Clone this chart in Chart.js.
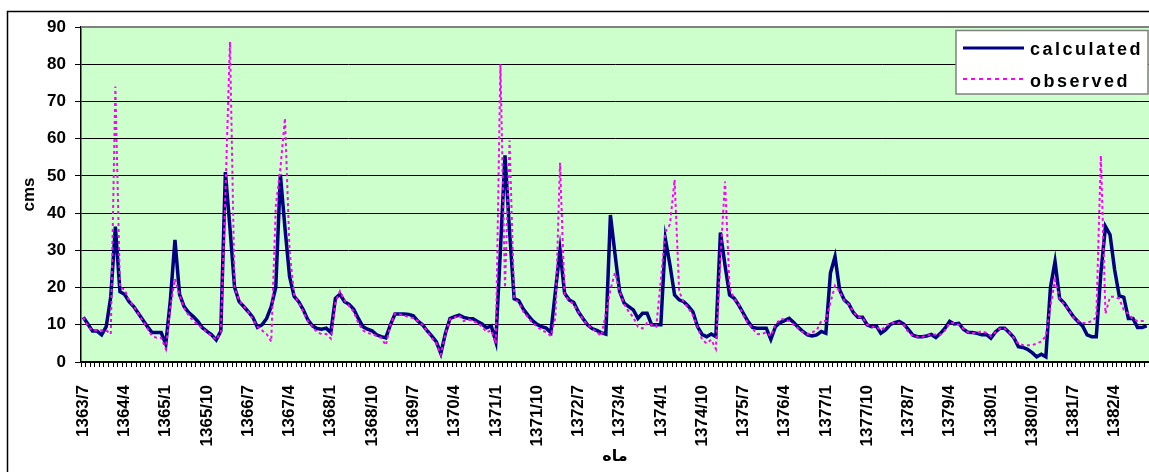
<!DOCTYPE html>
<html lang="fa">
<head>
  <meta charset="UTF-8" />
  <title>calculated / observed</title>
  <script src="https://cdn.jsdelivr.net/npm/chart.js"></script>
  <style>
    body{margin:0;padding:0;background:#fff}
    #caja{width:1149px;height:472px}
  </style>
</head>
<body>
<div id="caja"><canvas id="grafico" width="1149" height="472"></canvas></div>

<script>
/* -----------------   DATOS   ----------------- */
// meses 1363/7 ... 1382/11 (233 puntos)
const anioInicio = 1363, mesInicio = 7, numMeses = 233;
const meses = [];
for (let k = 0, a = anioInicio, m = mesInicio; k < numMeses; k++) {
  meses.push(a + "/" + m);
  m++; if (m > 12) { m = 1; a++; }
}

// etiquetas que se ven en el eje x (cada 9 meses)
const etiquetasX = ["1363/7","1364/4","1365/1","1365/10","1366/7","1367/4","1368/1","1368/10",
  "1369/7","1370/4","1371/1","1371/10","1372/7","1373/4","1374/1","1374/10","1375/7","1376/4",
  "1377/1","1377/10","1378/7","1379/4","1380/1","1380/10","1381/7","1382/4"];

const calculated = [
  12, 10.2, 8.3, 8.3, 7.3, 9.5, 17.6, 36.4, 18.9, 18.2,
  16.2, 14.9, 13.1, 11.3, 9.5, 7.9, 7.9, 7.9, 4.8, 16.7,
  32.8, 18.2, 14.9, 13.3, 12.2, 10.9, 9.2, 8.2, 7.3, 5.9,
  8.3, 51, 36, 20.1, 16.2, 14.9, 13.5, 12, 9.3, 10,
  11.7, 14.9, 20.1, 50.3, 36, 23, 17.6, 16.2, 14, 11.3,
  9.7, 9, 8.8, 9.1, 7.9, 17.1, 18.2, 16.2, 15.5, 14.2,
  11.7, 9.5, 8.8, 8.4, 7.3, 6.8, 6.5, 10, 12.9, 12.9,
  12.9, 12.8, 12.4, 11, 10, 8.4, 7, 5.5, 2.3, 7.7,
  11.7, 12.2, 12.6, 12, 11.7, 11.6, 10.9, 10.2, 9.2, 9.7,
  5.5, 30, 55.5, 35, 17, 16.5, 14.2, 12.6, 11.1, 10.1,
  9.5, 9.1, 7.9, 19, 30.1, 18.5, 16.7, 16, 13.5, 11.7,
  10, 9, 8.5, 7.9, 7.5, 39.5, 29, 19, 15.8, 14.9,
  14, 11.7, 13.1, 13.1, 10, 10, 10, 33, 26, 18,
  16.7, 16.2, 15, 13.5, 9.5, 7.4, 6.8, 7.5, 6.8, 34.8,
  26, 18, 17.1, 15.3, 13.1, 10.9, 9.3, 9.1, 9.1, 9.1,
  6.1, 9.5, 10.6, 11.1, 11.7, 10.6, 9.3, 8.2, 7.3, 7,
  7.3, 8.2, 7.7, 23.9, 28.3, 19.4, 16.7, 15.6, 13.3, 12,
  12, 10, 9.5, 9.7, 7.7, 8.6, 10, 10.6, 10.9, 10.2,
  8.8, 7.2, 6.8, 6.8, 7, 7.4, 6.6, 7.7, 9.1, 10.9,
  10.2, 10.4, 8.8, 8, 7.9, 7.7, 7.3, 7.4, 6.4, 8.1,
  9.1, 9.1, 7.9, 6.6, 4.1, 3.9, 3.4, 2.5, 1.4, 2.1,
  1.4, 20, 27, 17.1, 15.8, 14, 12.2, 10.9, 9.7, 7.3,
  6.8, 6.8, 23.9, 36.4, 34.2, 24.8, 17.8, 17.4, 11.7, 11.7,
  9.3, 9.3, 9.7
];

const observed = [
  12, 9.5, 8.5, 8.5, 8.5, 8.5, 7.5, 74, 20, 19.5,
  16.5, 15, 13, 11, 9, 7, 6.5, 6.5, 3.5, 15,
  22.3, 18, 14.5, 12.5, 11, 10, 9, 8, 7, 6,
  8, 45, 86, 20, 16.5, 15, 13.5, 11.5, 9.5, 8.5,
  7.5, 5.5, 42, 52, 65.5, 30, 18, 16, 13.5, 11,
  9.5, 8, 7.5, 7.5, 6.3, 16, 19, 16.5, 15, 13.5,
  10.5, 8.5, 7.8, 7.5, 7, 6.5, 4.5, 10, 13, 12.8,
  12.5, 12, 11.8, 11, 10, 8.3, 6.5, 5, 2, 7.5,
  11.5, 12, 12.5, 11, 11.5, 11, 10.5, 9.5, 8, 8.5,
  5, 80, 20, 59.5, 17, 16, 13.5, 12, 10.5, 9.5,
  8.5, 8, 7, 12, 53.5, 18, 16.5, 15.5, 13.5, 11.5,
  10, 9, 8, 7, 13, 19.4, 24, 19, 15.5, 13.5,
  12, 9.5, 9, 10.5, 10, 9.5, 22, 35, 37, 49,
  19, 16, 14.5, 12.5, 9.5, 6, 5, 6, 3.5, 28,
  48.5, 20, 17, 15.5, 12.5, 10.5, 9, 7.5, 7.5, 8,
  7, 10, 11.5, 11.5, 11, 10, 9, 8, 7.5, 8,
  8.5, 11, 11, 16, 20.5, 19, 16.5, 15.5, 13.5, 12,
  12, 10, 9.5, 9.5, 8.5, 9.5, 10.5, 10.5, 10.5, 10,
  8, 7, 6.8, 6.8, 7, 7.5, 7.3, 7.3, 8.5, 10.5,
  10.5, 10, 9, 8, 7.8, 7.8, 8.3, 7.8, 7, 8,
  9, 9, 8, 6.5, 5, 4.5, 4.5, 4.5, 5, 5.5,
  7, 15, 22, 17, 15.5, 14, 12, 11, 10.5, 10.5,
  11, 12, 55.5, 13, 17.5, 17.5, 17, 14, 13, 11.5,
  11, 11, 11
];

const fuente = "'Liberation Sans', Arial, 'DejaVu Sans', sans-serif";

/* -----------------   FONDO, MARCO Y LEYENDA   ----------------- */
const marco = {
  id: "marco",
  beforeDraw(chart){
    const {ctx, chartArea:a} = chart;
    ctx.save();
    ctx.fillStyle = "#fff";
    ctx.fillRect(0, 0, chart.width, chart.height);
    // borde exterior del gráfico
    ctx.strokeStyle = "#000"; ctx.lineWidth = 1.5;
    ctx.strokeRect(7.5, 11.5, 1300, 600);
    // área verde
    ctx.fillStyle = "#ccffcc";
    ctx.fillRect(a.left, a.top, a.right - a.left, a.bottom - a.top);
    ctx.restore();
  },
  beforeDatasetsDraw(chart){
    const {ctx, chartArea:a} = chart;
    ctx.save();
    ctx.strokeStyle = "#808080"; ctx.lineWidth = 2;
    ctx.beginPath(); ctx.moveTo(a.left, a.top); ctx.lineTo(a.right, a.top); ctx.stroke();
    ctx.restore();
  },
  afterDraw(chart){
    const ctx = chart.ctx;
    ctx.save();
    ctx.fillStyle = "#fff"; ctx.strokeStyle = "#808080"; ctx.lineWidth = 1.5;
    ctx.fillRect(956, 30.5, 192, 63.5);
    ctx.strokeRect(956, 30.5, 192, 63.5);
    // calculated
    ctx.strokeStyle = "#000080"; ctx.lineWidth = 3;
    ctx.beginPath(); ctx.moveTo(963, 48); ctx.lineTo(1024, 48); ctx.stroke();
    // observed
    ctx.strokeStyle = "#ff00ff"; ctx.lineWidth = 2; ctx.setLineDash([4, 4]);
    ctx.beginPath(); ctx.moveTo(963, 79); ctx.lineTo(1024, 79); ctx.stroke();
    ctx.setLineDash([]);
    ctx.fillStyle = "#000";
    ctx.font = "bold 18px " + fuente;
    ctx.letterSpacing = "2.5px";
    ctx.textBaseline = "alphabetic";
    ctx.fillText("calculated", 1030, 55);
    ctx.fillText("observed", 1030, 86.5);
    ctx.restore();
  }
};

/* -----------------   GRÁFICO   ----------------- */
new Chart(document.getElementById("grafico"), {
  type: "line",
  data: {
    labels: meses,
    datasets: [
      {label: "observed", data: observed, borderColor: "#ff00ff", borderWidth: 2,
       borderDash: [3, 3], pointRadius: 0, tension: 0, fill: false, order: 0},
      {label: "calculated", data: calculated, borderColor: "#000080", borderWidth: 3.5,
       pointRadius: 0, tension: 0, fill: false, order: 1}
    ]
  },
  options: {
    responsive: false,
    animation: false,
    layout: {padding: {top: 27, right: 0, left: 0, bottom: 0}},
    plugins: {legend: {display: false}, tooltip: {enabled: false}},
    scales: {
      x: {
        type: "category",
        offset: true,
        grid: {offset: true, drawOnChartArea: false, color: "#000", tickLength: 5},
        border: {color: "#000", width: 1.5},
        ticks: {
          autoSkip: false, minRotation: 90, maxRotation: 90, padding: 18, color: "#000",
          font: {family: fuente, size: 17, weight: "bold"},
          callback: (v, i) => etiquetasX.includes(meses[i]) ? meses[i] : ""
        },
        title: {display: true, text: "ماه", color: "#000",
                font: {family: fuente, size: 16, weight: "bold"}, padding: {top: 0, bottom: 6}},
        afterFit(s){ s.height = 110; s.paddingRight = 0; s.paddingLeft = 0; }
      },
      y: {
        min: 0, max: 90,
        ticks: {stepSize: 10, color: "#000", padding: 9, font: {family: fuente, size: 17, weight: "bold"}},
        grid: {color: "#000", lineWidth: 1, tickLength: 6},
        border: {color: "#000", width: 1.5},
        title: {display: true, text: "cms", color: "#000",
                font: {family: fuente, size: 17, weight: "bold"}, padding: {top: 19, bottom: 0}},
        afterFit(s){ s.width = 81; }
      }
    }
  },
  plugins: [marco]
});
</script>
</body>
</html>
